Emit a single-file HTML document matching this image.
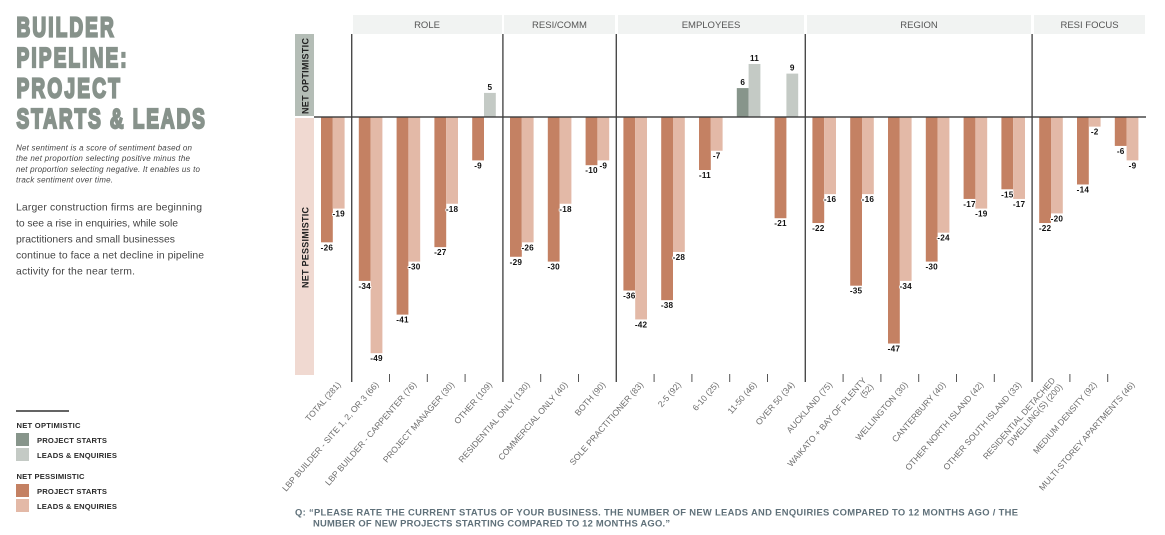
<!DOCTYPE html>
<html lang="en">
<head>
<meta charset="utf-8">
<title>Builder Pipeline: Project Starts &amp; Leads</title>
<style>
html,body{margin:0;padding:0;background:#fff;width:1165px;height:535px;overflow:hidden}
svg{display:block;font-family:"Liberation Sans",sans-serif}
.cat{font-size:8.6px;fill:#6e6e6e}
.val{font-size:8.2px;font-weight:bold;fill:#111;text-anchor:middle;letter-spacing:.2px;paint-order:stroke;stroke:#fff;stroke-width:1.6px}
.hdr{font-size:9.5px;fill:#555;text-anchor:middle}
.leg{font-size:7.6px;font-weight:bold;fill:#2a2a2a}
.ttl{font-size:28px;font-weight:bold;fill:#87928b;stroke:#87928b;stroke-width:2.2;stroke-linejoin:miter}
.ital{font-size:8px;font-style:italic;fill:#444}
.body{font-size:10.4px;fill:#444}
.q{font-size:9.4px;font-weight:bold;fill:#5f7079}
</style>
</head>
<body>
<svg id="chart" width="1165" height="535" viewBox="0 0 1165 535" xmlns="http://www.w3.org/2000/svg">
  <g transform="translate(16.5,0) scale(.68,1)">
    <text class="ttl" x="0" y="36.5" textLength="143" lengthAdjust="spacing">BUILDER</text>
    <text class="ttl" x="0" y="67" textLength="162" lengthAdjust="spacing">PIPELINE:</text>
    <text class="ttl" x="0" y="97.5" textLength="152" lengthAdjust="spacing">PROJECT</text>
    <text class="ttl" x="0" y="128" textLength="277" lengthAdjust="spacing">STARTS &amp; LEADS</text>
  </g>
  <g>
    <text class="ital" x="16" y="150.5" textLength="176">Net sentiment is a score of sentiment based on</text>
    <text class="ital" x="16" y="161" textLength="174">the net proportion selecting positive minus the</text>
    <text class="ital" x="16" y="172" textLength="184">net proportion selecting negative. It enables us to</text>
    <text class="ital" x="16" y="182.5" textLength="97">track sentiment over time.</text>
  </g>
  <g>
    <text class="body" x="16" y="210.5" textLength="186">Larger construction firms are beginning</text>
    <text class="body" x="16" y="226.5" textLength="162">to see a rise in enquiries, while sole</text>
    <text class="body" x="16" y="242.5" textLength="159">practitioners and small businesses</text>
    <text class="body" x="16" y="258.5" textLength="188">continue to face a net decline in pipeline</text>
    <text class="body" x="16" y="274.5" textLength="119">activity for the near term.</text>
  </g>
  <g>
    <rect x="16" y="410.3" width="53" height="1.4" fill="#222"/>
    <text class="leg" x="16.5" y="428" textLength="64">NET OPTIMISTIC</text>
    <rect x="16" y="433" width="13" height="13" fill="#87958b"/>
    <text class="leg" x="37" y="443" textLength="70">PROJECT STARTS</text>
    <rect x="16" y="448" width="13" height="13" fill="#c4cac5"/>
    <text class="leg" x="37" y="458" textLength="80">LEADS &amp; ENQUIRIES</text>
    <text class="leg" x="16.5" y="479" textLength="68">NET PESSIMISTIC</text>
    <rect x="16" y="484" width="13" height="13" fill="#c48163"/>
    <text class="leg" x="37" y="494" textLength="70">PROJECT STARTS</text>
    <rect x="16" y="499" width="13" height="13" fill="#e3b9a7"/>
    <text class="leg" x="37" y="509" textLength="80">LEADS &amp; ENQUIRIES</text>
  </g>
  <g>
    <rect x="295" y="34" width="19" height="82" fill="#b4bdb6"/>
    <rect x="295" y="118" width="19" height="257" fill="#f0d9d1"/>
    <text transform="translate(308.5,114) rotate(-90)" font-size="9" font-weight="bold" fill="#222" textLength="76">NET OPTIMISTIC</text>
    <text transform="translate(308.5,288) rotate(-90)" font-size="9" font-weight="bold" fill="#222" textLength="81">NET PESSIMISTIC</text>
  </g>
  <g>
    <rect x="353" y="15" width="149" height="19" fill="#f1f3f2"/>
    <rect x="504" y="15" width="111" height="19" fill="#f1f3f2"/>
    <rect x="618" y="15" width="186" height="19" fill="#f1f3f2"/>
    <rect x="807" y="15" width="224" height="19" fill="#f1f3f2"/>
    <rect x="1034" y="15" width="111" height="19" fill="#f1f3f2"/>
    <text class="hdr" x="427" y="28">ROLE</text>
    <text class="hdr" x="559.5" y="28">RESI/COMM</text>
    <text class="hdr" x="711" y="28">EMPLOYEES</text>
    <text class="hdr" x="919" y="28">REGION</text>
    <text class="hdr" x="1089.5" y="28">RESI FOCUS</text>
  </g>
  <g id="ticks"></g>
  <g id="bars"></g>
  <g id="values"></g>
  <g id="cats"></g>
  <rect x="314" y="116.3" width="832" height="1.4" fill="#3c3c3c"/>
  <g>
    <text class="q" x="295" y="515.5" textLength="723">Q: “PLEASE RATE THE CURRENT STATUS OF YOUR BUSINESS. THE NUMBER OF NEW LEADS AND ENQUIRIES COMPARED TO 12 MONTHS AGO / THE</text>
    <text class="q" x="313" y="526.5" textLength="357">NUMBER OF NEW PROJECTS STARTING COMPARED TO 12 MONTHS AGO.”</text>
  </g>
</svg>
<script>
var categories = ["TOTAL (281)","LBP BUILDER - SITE 1, 2, OR 3 (66)","LBP BUILDER - CARPENTER (76)","PROJECT MANAGER (30)","OTHER (109)","RESIDENTIAL ONLY (130)","COMMERCIAL ONLY (40)","BOTH (90)","SOLE PRACTITIONER (83)","2-5 (92)","6-10 (25)","11-50 (46)","OVER 50 (34)","AUCKLAND (75)","WAIKATO + BAY OF PLENTY|(52)","WELLINGTON (30)","CANTERBURY (40)","OTHER NORTH ISLAND (42)","OTHER SOUTH ISLAND (33)","RESIDENTIAL DETACHED|DWELLING(S) (200)","MEDIUM DENSITY (92)","MULTI-STOREY APARTMENTS (46)"];
var projectStarts = [-26,-34,-41,-27,-9,-29,-30,-10,-36,-38,-11,6,-21,-22,-35,-47,-30,-17,-15,-22,-14,-6];
var leadsEnquiries = [-19,-49,-30,-18,5,-26,-18,-9,-42,-28,-7,11,9,-16,-16,-34,-24,-19,-17,-20,-2,-9];
var groupSizes = [4,3,5,6,3];
var firstGroupOffset = 1;

var NS = "http://www.w3.org/2000/svg";
var PLOT_LEFT = 313.9, STEP = 37.8, BAR_W = 11.8, ZERO = 117, UNIT = 4.82;
function xStart(i){ return PLOT_LEFT + STEP * i; }
function xCenter(i){ return xStart(i) + STEP / 2; }
function yVal(v){ return ZERO - v * UNIT; }
function make(tag, parent, props){
  var el = document.createElementNS(NS, tag);
  for (var k in props) el.setAttribute(k, props[k]);
  parent.appendChild(el);
  return el;
}
var barsG = document.getElementById('bars');
var valsG = document.getElementById('values');
var catsG = document.getElementById('cats');
var ticksG = document.getElementById('ticks');

function drawBar(i, v, series, side){
  var x = xCenter(i) + (side < 0 ? -BAR_W : 0);
  var top = Math.min(yVal(v), ZERO), h = Math.abs(yVal(v) - ZERO);
  var colors = series === 'starts' ? (v >= 0 ? '#87958b' : '#c48163') : (v >= 0 ? '#c4cac5' : '#e3b9a7');
  var r = make('rect', barsG, {x:x, y:top, width:BAR_W, height:h, fill:colors});
  
  
  var t = make('text', valsG, {'class':'val', x:x + BAR_W / 2, y: v >= 0 ? top - 3 : top + h + 8});
  t.textContent = String(v);
  
  
}
categories.forEach(function(c, i){
  drawBar(i, projectStarts[i], 'starts', -1);
  drawBar(i, leadsEnquiries[i], 'leads', 1);
  var ex = xCenter(i) + 8.5, ey = 385;
  var parts = c.split('|');
  var g = make('g', catsG, {});
  
  
  parts.forEach(function(p, j){
    var off = parts.length > 1 ? (j === 0 ? -5 : 4.5) : 0;
    var tx = ex + off * 0.75;
    var ty = ey + off * 0.66 - (parts.length > 1 ? 1 : 0);
    var t = make('text', g, {'class':'cat','text-anchor':'end', transform:'translate(' + tx + ',' + ty + ') rotate(-49)'});
    t.textContent = p;
  });
});
var boundaries = {};
var pos = firstGroupOffset;
groupSizes.forEach(function(n){ boundaries[pos] = true; pos += n; });
for (var b = firstGroupOffset; b < categories.length; b++) {
  var major = !!boundaries[b];
  var line = make('rect', ticksG, {x:xStart(b) - (major ? .7 : .5), y: major ? 34 : 374, width: major ? 1.4 : 1, height: major ? 348 : 8, fill: major ? '#4a4a4a' : '#555'});
  
  
}
</script>
</body>
</html>
